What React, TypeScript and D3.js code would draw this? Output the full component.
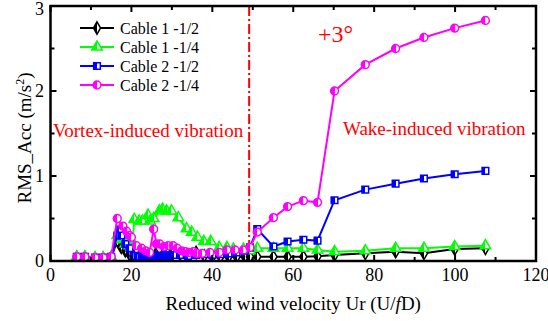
import React from 'react';
import * as d3 from 'd3';

const seriesNames = ['Cable 1 -1/2', 'Cable 1 -1/4', 'Cable 2 -1/2', 'Cable 2 -1/4'];

const c1HalfX = [6.5, 8.5, 11, 13, 15, 16.5, 17.5, 18.5, 19.5, 20.5, 22, 24, 26, 28, 30, 32, 34, 36, 38, 40, 42, 44, 46, 48, 49.3, 51.1, 55.1, 58.6, 62.5, 66, 70.2, 77.8, 85.3, 92.3, 99.9, 107.5];
const c1HalfY = [0.04, 0.04, 0.03, 0.03, 0.04, 0.24, 0.16, 0.12, 0.08, 0.06, 0.06, 0.06, 0.08, 0.09, 0.1, 0.08, 0.07, 0.1, 0.06, 0.05, 0.05, 0.05, 0.05, 0.05, 0.05, 0.05, 0.05, 0.05, 0.05, 0.055, 0.07, 0.09, 0.11, 0.09, 0.14, 0.15];

const c1QuarterX = [6.5, 8.5, 11, 13, 15, 16.5, 17.5, 18.5, 19.5, 20.3, 20.7, 21.9, 22.7, 24.1, 24.6, 25.5, 26.9, 27.7, 28.7, 29.9, 31.6, 33.6, 34.9, 36.3, 37.9, 39.6, 41.7, 43.6, 45.2, 47.7, 49.3, 51.1, 55.1, 58.6, 62.5, 66, 70.2, 77.8, 85.3, 92.3, 99.9, 107.5];
const c1QuarterY = [0.05, 0.05, 0.04, 0.04, 0.05, 0.3, 0.25, 0.2, 0.18, 0.22, 0.49, 0.47, 0.47, 0.54, 0.47, 0.5, 0.59, 0.61, 0.59, 0.59, 0.51, 0.38, 0.34, 0.28, 0.23, 0.23, 0.16, 0.16, 0.14, 0.14, 0.12, 0.15, 0.15, 0.15, 0.15, 0.13, 0.11, 0.12, 0.15, 0.15, 0.17, 0.18];

const c2HalfX = [6.5, 8.5, 11, 13, 15, 16.5, 17, 17.5, 18.5, 19.5, 20.5, 21.5, 22.5, 23.5, 24.5, 25.5, 26.5, 27.5, 28.5, 29.5, 30.5, 32, 34, 36, 38, 40, 42, 44, 46, 48, 49.3, 51.1, 55.1, 58.6, 62.5, 66, 70.2, 77.8, 85.3, 92.3, 99.9, 107.5];
const c2HalfY = [0.05, 0.05, 0.04, 0.04, 0.05, 0.3, 0.37, 0.3, 0.2, 0.15, 0.06, 0.05, 0.06, 0.05, 0.06, 0.07, 0.06, 0.06, 0.07, 0.06, 0.07, 0.07, 0.06, 0.07, 0.08, 0.07, 0.08, 0.09, 0.1, 0.12, 0.16, 0.375, 0.17, 0.23, 0.25, 0.24, 0.715, 0.84, 0.91, 0.97, 1.02, 1.06];

const c2QuarterX = [6.5, 8.5, 11, 13, 15, 16.5, 17.9, 18.8, 19.5, 20, 21.2, 22.5, 23.5, 24.5, 25.5, 26.2, 27, 28, 29.1, 30.3, 31.3, 32.4, 33.3, 34.2, 35.3, 36.1, 37.5, 39.4, 41.7, 43.6, 45.6, 47.7, 49.3, 51.1, 55.1, 58.6, 62.5, 66, 70.2, 77.8, 85.3, 92.3, 99.9, 107.5];
const c2QuarterY = [0.05, 0.05, 0.04, 0.04, 0.05, 0.5, 0.41, 0.35, 0.3, 0.28, 0.18, 0.15, 0.12, 0.1, 0.375, 0.2, 0.2, 0.17, 0.18, 0.18, 0.15, 0.12, 0.11, 0.1, 0.11, 0.09, 0.09, 0.1, 0.1, 0.13, 0.13, 0.13, 0.16, 0.34, 0.51, 0.64, 0.71, 0.69, 2.0, 2.31, 2.5, 2.63, 2.74, 2.83];

const xTicks = [0, 20, 40, 60, 80, 100, 120];
const xMinor = [10, 30, 50, 70, 90, 110];
const yTicks = [0, 1, 2, 3];
const yMinor = [0.5, 1.5, 2.5];
const splitX = 49.1;

const W = 548;
const H = 321;

const seriesList = [
  { name: seriesNames[0], xs: c1HalfX, ys: c1HalfY, color: '#000000', sym: d3.symbolDiamond, size: 44 },
  { name: seriesNames[1], xs: c1QuarterX, ys: c1QuarterY, color: '#00ff00', sym: d3.symbolTriangle, size: 48 },
  { name: seriesNames[2], xs: c2HalfX, ys: c2HalfY, color: '#0000ff', sym: d3.symbolSquare, size: 44 },
  { name: seriesNames[3], xs: c2QuarterX, ys: c2QuarterY, color: '#ff00ff', sym: d3.symbolCircle, size: 48 },
];

export default function App() {
  const x = d3.scaleLinear().domain([0, 120]).range([50.5, 536]);
  const y = d3.scaleLinear().domain([0, 3]).range([261, 6]);
  const line = d3.line<[number, number]>().x(d => x(d[0])).y(d => y(d[1]));
  const [x0, x1] = x.range();
  const [y0, y1] = y.range();

  return (
    <svg width={W} height={H} style={{ position: 'absolute', left: 0, top: 0, background: '#fff' }}>
      <style>{`text { font-family: 'Liberation Serif', 'Times New Roman', Times, serif; }`}</style>
      <defs>
        {seriesList.map((s, i) => (
          <linearGradient key={i} id={`half${i}`} x1="0" x2="1" y1="0" y2="0">
            <stop offset="0.5" stopColor={s.color} />
            <stop offset="0.5" stopColor="#ffffff" />
          </linearGradient>
        ))}
        <clipPath id="plotclip">
          <rect x={x0} y={y1} width={x1 - x0} height={y0 - y1} />
        </clipPath>
      </defs>

      {/* split line */}
      <line x1={x(splitX)} x2={x(splitX)} y1={y1} y2={y0} stroke="#ff0000" strokeWidth={2} strokeDasharray="10,3,2,3" />

      {/* series */}
      {seriesList.map((s, i) => {
        const pts: [number, number][] = s.xs.map((v, k) => [v, s.ys[k]]);
        const sym = d3.symbol().type(s.sym).size(s.size)();
        return (
          <g key={i} clipPath="url(#plotclip)">
            <path d={line(pts) || ''} fill="none" stroke={s.color} strokeWidth={2} />
            {pts.map((p, k) => (
              <path key={k} d={sym || ''} transform={`translate(${x(p[0])},${y(p[1])})`} fill={`url(#half${i})`} stroke={s.color} strokeWidth={1.5} />
            ))}
          </g>
        );
      })}

      {/* frame */}
      <rect x={x0} y={y1} width={x1 - x0} height={y0 - y1} fill="none" stroke="#000" strokeWidth={2.5} />

      {/* ticks */}
      {xTicks.map(t => (
        <g key={'xt' + t}>
          <line x1={x(t)} x2={x(t)} y1={y0} y2={y0 - 6} stroke="#000" strokeWidth={2} />
          <line x1={x(t)} x2={x(t)} y1={y1} y2={y1 + 6} stroke="#000" strokeWidth={2} />
          <text x={x(t)} y={281} fontSize={18} textAnchor="middle">{t}</text>
        </g>
      ))}
      {xMinor.map(t => (
        <g key={'xm' + t}>
          <line x1={x(t)} x2={x(t)} y1={y0} y2={y0 - 4} stroke="#000" strokeWidth={2} />
          <line x1={x(t)} x2={x(t)} y1={y1} y2={y1 + 4} stroke="#000" strokeWidth={2} />
        </g>
      ))}
      {yTicks.map(t => (
        <g key={'yt' + t}>
          <line x1={x0} x2={x0 + 6} y1={y(t)} y2={y(t)} stroke="#000" strokeWidth={2} />
          <line x1={x1} x2={x1 - 6} y1={y(t)} y2={y(t)} stroke="#000" strokeWidth={2} />
          <text x={44} y={Math.max(y(t) + 6, 15)} fontSize={18} textAnchor="end">{t}</text>
        </g>
      ))}
      {yMinor.map(t => (
        <g key={'ym' + t}>
          <line x1={x0} x2={x0 + 4} y1={y(t)} y2={y(t)} stroke="#000" strokeWidth={2} />
          <line x1={x1} x2={x1 - 4} y1={y(t)} y2={y(t)} stroke="#000" strokeWidth={2} />
        </g>
      ))}

      {/* axis titles */}
      <text x={(x0 + x1) / 2} y={310} fontSize={19} textAnchor="middle">
        Reduced wind velocity Ur (U/<tspan fontStyle="italic">f</tspan>D)
      </text>
      <text transform="translate(31,138) rotate(-90)" fontSize={19} textAnchor="middle">
        RMS_Acc (m/s<tspan fontSize={12} dy={-7}>2</tspan><tspan dy={7}>)</tspan>
      </text>

      {/* annotations */}
      <text x={53} y={137} fontSize={19} fill="#ff0000">Vortex-induced vibration</text>
      <text x={343} y={135} fontSize={19} fill="#ff0000">Wake-induced vibration</text>
      <text x={318} y={42} fontSize={24} fill="#ff0000">+3°</text>

      {/* legend */}
      {seriesList.map((s, i) => {
        const ly = 28 + i * 19;
        const sym = d3.symbol().type(s.sym).size(s.size)();
        return (
          <g key={'lg' + i}>
            <line x1={80} x2={114} y1={ly} y2={ly} stroke={s.color} strokeWidth={2} />
            <path d={sym || ''} transform={`translate(97,${ly})`} fill={`url(#half${i})`} stroke={s.color} strokeWidth={1.5} />
            <text x={120} y={ly + 5.5} fontSize={16}>{s.name}</text>
          </g>
        );
      })}
    </svg>
  );
}
